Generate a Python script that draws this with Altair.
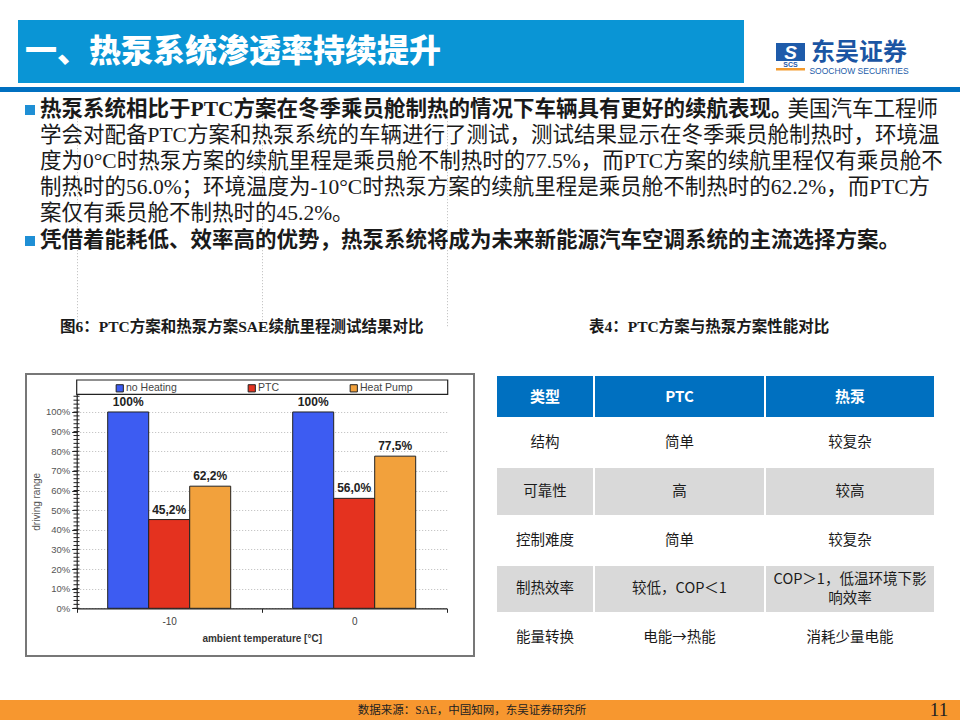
import altair as alt
import pandas as pd

# ------------------------------------------------------------------ data
temps = ["-10", "0"]
series = ["no Heating", "PTC", "Heat Pump"]
no_heating = [100.0, 100.0]
ptc = [45.2, 56.0]
heat_pump = [62.2, 77.5]
series_colors = ["#3D5CF2", "#E4321F", "#F2A13C"]

y_tick_values = [0.0, 0.1, 0.2, 0.3, 0.4, 0.5, 0.6, 0.7, 0.8, 0.9, 1.0]
minor_tick_values = [round(i * 0.02, 2) for i in range(55)]

table_header = ["类型", "PTC", "热泵"]
table_col1 = ["结构", "可靠性", "控制难度", "制热效率", "能量转换"]
table_col2 = ["简单", "高", "简单", "较低，COP＜1", "电能→热能"]
table_col3 = ["较复杂", "较高", "较复杂", "COP＞1，低温环境下影\n响效率", "消耗少量电能"]

title_text = "一、热泵系统渗透率持续提升"
bullet1_bold = "热泵系统相比于PTC方案在冬季乘员舱制热的情况下车辆具有更好的续航表现。"
bullet1_rest = "美国汽车工程师"
body_lines = [
    "学会对配备PTC方案和热泵系统的车辆进行了测试，测试结果显示在冬季乘员舱制热时，环境温",
    "度为0°C时热泵方案的续航里程是乘员舱不制热时的77.5%，而PTC方案的续航里程仅有乘员舱不",
    "制热时的56.0%；环境温度为-10°C时热泵方案的续航里程是乘员舱不制热时的62.2%，而PTC方",
    "案仅有乘员舱不制热时的45.2%。",
]
bullet2_bold = "凭借着能耗低、效率高的优势，热泵系统将成为未来新能源汽车空调系统的主流选择方案。"
caption_fig = "图6：PTC方案和热泵方案SAE续航里程测试结果对比"
caption_tab = "表4：PTC方案与热泵方案性能对比"
source_text = "数据来源：SAE，中国知网，东吴证券研究所"
page_no = "11"

# ------------------------------------------------------------------ layout
W, H = 960, 720
CJK = "Noto Sans CJK SC"
SERIF_CJK = "Liberation Serif, Noto Sans CJK SC"
SANS = "Liberation Sans"
PX0, PX1 = 76.7, 446.7      # bar plot left/right
PY0, PYT = 608.3, 394.3     # bar plot bottom/top
col_edges = [496, 594, 765, 935]
row_edges = [375, 418, 467, 516, 565, 613, 662]
line_y = [136, 162, 188, 214]
TABLE_LH = 19

one = pd.DataFrame({"k": [0]})


def box(x, x2, y, y2, fill, stroke=None, sw=0.0, fill_opacity=1.0):
    kw = dict(fill=fill, strokeWidth=sw, fillOpacity=fill_opacity)
    if stroke:
        kw["stroke"] = stroke
    return alt.Chart(one).mark_rect(**kw).encode(
        x=alt.value(x), x2=alt.value(x2), y=alt.value(y), y2=alt.value(y2)
    )


def label(s, x, y, size, color="#1a1a1a", weight="normal", align="left",
          font=CJK, baseline="middle", **extra):
    return alt.Chart(one).mark_text(
        text=s, fontSize=size, color=color, fontWeight=weight, align=align,
        font=font, baseline=baseline, **extra
    ).encode(x=alt.value(x), y=alt.value(y))


layers = []

# ---------------- header
layers.append(box(18, 744, 20, 83, "#0A95D5"))
layers.append(box(0, W, 87, 92, "#0070C0"))
layers.append(label(title_text, 25, 52, 32, color="white", weight=900))
# logo
layers.append(box(776, 805, 43, 61, "#1E5BAA"))
layers.append(label("S", 790.5, 52.5, 19, color="white", weight="bold", align="center",
                    font=SANS, fontStyle="italic"))
layers.append(label("SCS", 790.5, 65, 7, color="#1E5BAA", weight="bold", align="center", font=SANS))
layers.append(box(776, 805, 68, 70.5, "#F39A2D"))
layers.append(label("东吴证券", 859, 53, 24, color="#1B55A3", weight="bold", align="center"))
layers.append(label("SOOCHOW SECURITIES", 859, 71, 8.5, color="#1B5BA8", align="center", font=SANS))

# ---------------- bullet text
layers.append(box(25, 35, 105, 115, "#1F8FD5"))
layers.append(box(25, 35, 236, 246, "#1F8FD5"))
layers.append(label(bullet1_bold, 40, 110, 21.5, weight="bold", font=SERIF_CJK))
layers.append(label(bullet1_rest, 938, 110, 21.5, align="right", font=SERIF_CJK))
for s, yy in zip(body_lines, line_y):
    layers.append(label(s, 40, yy, 21.5, font=SERIF_CJK))
layers.append(label(bullet2_bold, 40, 241, 21.5, weight="bold", font=SERIF_CJK))

# ---------------- captions
layers.append(label(caption_fig, 60, 327, 15.5, weight="bold", font=SERIF_CJK))
layers.append(label(caption_tab, 589, 327, 15.5, weight="bold", font=SERIF_CJK))

# ---------------- table (cells laid out on the column / row edges)
table_rows = [table_header] + [list(r) for r in zip(table_col1, table_col2, table_col3)]
for r, row in enumerate(table_rows):
    for c, t in enumerate(row):
        if r == 0:
            fill = "#0070C0"
        elif r in (2, 4):
            fill = "#D9D9D9"
        else:
            fill = "#FFFFFF"
        x0, x1 = col_edges[c], col_edges[c + 1]
        y0, y1 = row_edges[r], row_edges[r + 1]
        if fill != "#FFFFFF":
            layers.append(box(x0 + 1, x1 - 1, y0 + 1, y1 - 1, fill))
        lines = t.split("\n")
        cy = (y0 + y1) / 2 - (len(lines) - 1) * TABLE_LH / 2
        for k, ln in enumerate(lines):
            if r == 0:
                layers.append(label(ln, (x0 + x1) / 2, cy, 15, color="white",
                                    weight="bold", align="center"))
            else:
                layers.append(label(ln, (x0 + x1) / 2, cy + k * TABLE_LH, 14.5,
                                    color="#1a1a1a", align="center"))

# ---------------- bar chart
rows = []
for i, t in enumerate(temps):
    for s, vals in zip(series, [no_heating, ptc, heat_pump]):
        v = vals[i]
        lbl = "100%" if v == 100 else f"{v:.1f}%".replace(".", ",")
        rows.append({"temp": t, "series": s, "value": v / 100.0, "lbl": lbl})
bar_df = pd.DataFrame(rows)

# frame and legend box (outline only)
layers.append(box(26, 474, 374, 656, "#FFFFFF", stroke="#777777", sw=2, fill_opacity=0))
layers.append(box(PX0, PX1 + 1, 380, PYT, "#FFFFFF", stroke="#222222", sw=1.2, fill_opacity=0))

x_scale = alt.Scale(range=[PX0, PX1], paddingInner=0, paddingOuter=0)
xo_scale = alt.Scale(paddingInner=0, paddingOuter=0.756)
y_scale = alt.Scale(domain=[0, 1.09], range=[PY0, PYT], nice=False, zero=True)

x_axis = alt.Axis(
    orient="bottom", offset=-(H - PY0), tickBand="extent", labelAngle=0,
    labelFont=SANS, labelFontSize=10, labelColor="#444", labelPadding=4,
    tickSize=4, tickColor="#222", domainColor="#222", domainWidth=1.2,
    grid=True, gridColor="#BBBBBB", gridDash=[1, 2],
    title="ambient temperature [°C]", titleFont=SANS, titleFontSize=10,
    titleFontWeight="bold", titleColor="#333", titlePadding=7,
)
y_axis = alt.Axis(
    orient="left", offset=-PX0, values=y_tick_values, format=".0%",
    labelFont=SANS, labelFontSize=9.5, labelColor="#555", labelPadding=2,
    tickSize=5, tickColor="#222", domainColor="#222", domainWidth=1.2,
    grid=True, gridColor="#BBBBBB", gridDash=[1, 2],
    title="driving range", titleFont=SANS, titleFontSize=10,
    titleFontWeight="normal", titleColor="#555",
)

bars = alt.Chart(bar_df).mark_bar(stroke="#222", strokeWidth=1).encode(
    x=alt.X("temp:N", sort=temps, scale=x_scale, axis=x_axis),
    xOffset=alt.XOffset("series:N", sort=series, scale=xo_scale),
    y=alt.Y("value:Q", scale=y_scale, axis=y_axis),
    color=alt.Color(
        "series:N", sort=series,
        scale=alt.Scale(domain=series, range=series_colors),
        legend=alt.Legend(
            orient="none", legendX=114.5, legendY=383, direction="horizontal",
            title=None, symbolType="square", symbolSize=52,
            symbolStrokeColor="#222", symbolStrokeWidth=1,
            labelFont=SANS, labelFontSize=10.5, labelColor="#444",
            columnPadding=68, labelOffset=1, padding=0, zindex=2,
        ),
    ),
)
layers.append(bars)

minor_df = pd.DataFrame({"value": minor_tick_values})
layers.append(
    alt.Chart(minor_df).mark_rule(color="#222", strokeWidth=1).encode(
        y=alt.Y("value:Q", scale=y_scale, axis=y_axis), x=alt.value(73.5), x2=alt.value(79.5)
    )
)

bar_labels = alt.Chart(bar_df).mark_text(
    font=SANS, fontSize=12, fontWeight="bold", color="#222", baseline="bottom", dy=-3
).encode(
    x=alt.X("temp:N", sort=temps, scale=x_scale, axis=x_axis),
    xOffset=alt.XOffset("series:N", sort=series, scale=xo_scale),
    y=alt.Y("value:Q", scale=y_scale, axis=y_axis),
    text="lbl:N",
)
layers.append(bar_labels)

# ---------------- footer
layers.append(box(0, W, 700, H, "#F7972F"))
layers.append(label(source_text, 472, 710.5, 11.5, color="#222", align="center", font=SERIF_CJK))
layers.append(label(page_no, 939, 710, 19, color="#222", align="center", font="Liberation Serif"))

chart = alt.layer(*layers).properties(
    width=W, height=H,
    autosize=alt.AutoSizeParams(type="none"),
    padding=0, background="white",
).configure_view(stroke=None)

chart.save("out.html", embed_options={"renderer": "svg", "actions": False})
